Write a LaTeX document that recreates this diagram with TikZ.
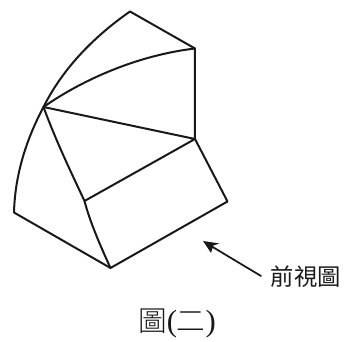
\documentclass[tikz,border=0pt]{standalone}
\usepackage{fontspec}
\setmainfont{Liberation Serif}
\newfontfamily\cjk{Noto Sans CJK TC}
\newfontfamily\cjklight{Noto Sans CJK TC}[UprightFont=* Light]
\begin{document}
\begin{tikzpicture}[x=0.75pt,y=-0.75pt,
  edge/.style={draw=black!90,line width=1.5pt,line join=round,line cap=round},
  lbl/.style={inner sep=0pt,anchor=center,text=black!90}]
\useasboundingbox (0,0) rectangle (344,342);
\fill[white] (0,0) rectangle (344,342);
\coordinate (P) at (130,11.5);
\coordinate (Q) at (195,48.5);
\coordinate (R) at (195,139);
\coordinate (S) at (43.5,107);
\coordinate (T) at (84.5,201);
\coordinate (U) at (110.5,268);
\coordinate (V) at (227.5,201.5);
\coordinate (W) at (14,212.5);
\coordinate (A) at (203,241);
\coordinate (B) at (261,276);
\draw[edge] (W) .. controls (15,175) and (26,140) .. (S)
  .. controls (62,70) and (92,38) .. (P) -- (Q) -- (R) -- (V) -- (U) -- (W);
\draw[edge] (S) .. controls (85,78) and (140,55) .. (Q);
\draw[edge] (S) -- (R) -- (T);
\draw[edge] (S) .. controls (56,141) and (70,170) .. (T) .. controls (90,222) and (100,245) .. (U);
\draw[edge,line width=1.3pt] (B) -- (211,246);
\fill[black!90] (A) -- (219.5,243.5) -- (213.5,245.5) -- (211,253) -- cycle;
\node[lbl] (front) at (306,277) {\cjk\fontsize{17.5}{17.5}\selectfont 前視圖};
\node[lbl] (title) at (177,323.5) {\cjklight\fontsize{21.5}{21.5}\selectfont 圖{\rmfamily\fontsize{23}{23}\selectfont (}二{\rmfamily\fontsize{23}{23}\selectfont )}};
\end{tikzpicture}
\end{document}
